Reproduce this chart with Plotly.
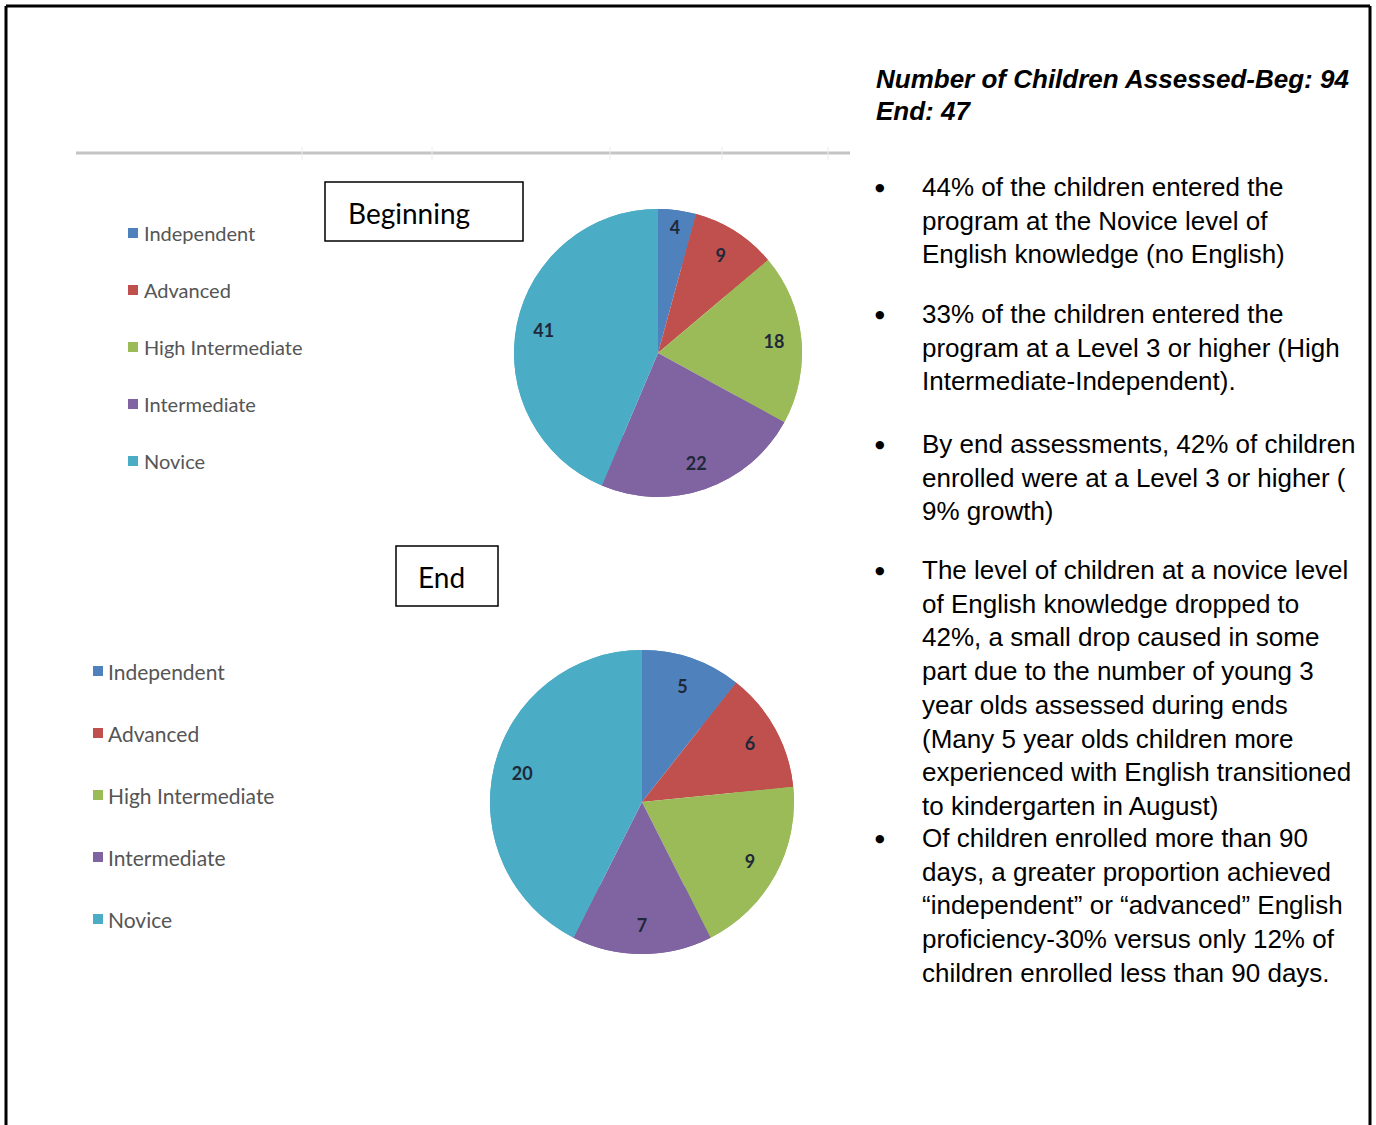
import plotly.graph_objects as go

W, H = 1376, 1125

# ---- data ----
levels = ["Independent", "Advanced", "High Intermediate", "Intermediate", "Novice"]
beginning_counts = [4, 9, 18, 22, 41]
end_counts = [5, 6, 9, 7, 20]
level_colors = ["#4F81BD", "#C0504D", "#9BBB59", "#8064A2", "#4BACC6"]

title_lines = ["Number of Children Assessed-Beg: 94", "End: 47"]
bullets = [
    ["44% of the children entered the",
     "program at the Novice level of",
     "English knowledge (no English)"],
    ["33% of the children entered the",
     "program at a Level 3 or higher (High",
     "Intermediate-Independent)."],
    ["By end assessments, 42% of children",
     "enrolled were at a Level 3 or higher (",
     "9% growth)"],
    ["The level of children at a novice level",
     "of English knowledge dropped to",
     "42%, a small drop caused in some",
     "part due to the number of young 3",
     "year olds assessed during ends",
     "(Many 5 year olds children more",
     "experienced with English transitioned",
     "to kindergarten in August)"],
    ["Of children enrolled more than 90",
     "days, a greater proportion achieved",
     "\u201cindependent\u201d or \u201cadvanced\u201d English",
     "proficiency-30% versus only 12% of",
     "children enrolled less than 90 days."],
]

# ---- layout helpers ----
def dom(cx, cy, r):
    return dict(x=[(cx - r) / W, (cx + r) / W], y=[1 - (cy + r) / H, 1 - (cy - r) / H])

fig = go.Figure()

base = dict(
    labels=levels, sort=False, direction="clockwise", rotation=0,
    marker=dict(colors=level_colors, line=dict(width=0)),
    showlegend=False, hoverinfo="label+value",
)
label_font = dict(family="Lato, sans-serif", size=18, color="#1f2838", weight="bold")

for vals, (cx, cy, r), nm in [(beginning_counts, (658, 353, 144), "Beginning"),
                             (end_counts, (642, 802, 152), "End")]:
    # full pie (no text)
    fig.add_trace(go.Pie(values=vals, domain=dom(cx, cy, r), name=nm, textinfo="none", **base))
    # identical ring on top carrying the value labels near the rim
    fig.add_trace(go.Pie(values=vals, domain=dom(cx, cy, r), name=nm, hole=0.62,
                         textinfo="value", textposition="inside", insidetextorientation="horizontal",
                         insidetextfont=label_font, **base))

shapes = []
annotations = []

# outer frame (left, top, right)
for x0, y0, x1, y1 in [(6, 6, 6, H + 5), (6, 6, 1370, 6), (1370, 6, 1370, H + 5)]:
    shapes.append(dict(type="line", xref="x", yref="y", x0=x0, y0=y0, x1=x1, y1=y1,
                       line=dict(color="black", width=3)))

# grey horizontal rule with faint ticks
shapes.append(dict(type="line", xref="x", yref="y", x0=76, y0=153, x1=850, y1=153,
                   line=dict(color="#c4c4c4", width=3)))
for tx in [302, 432, 610, 722, 828]:
    shapes.append(dict(type="line", xref="x", yref="y", x0=tx, y0=147, x1=tx, y1=160,
                       line=dict(color="#ececec", width=1)))

# boxed labels
for (x0, y0, x1, y1, txt, tx) in [(325, 182, 523, 241, "Beginning", 346), (396, 546, 498, 606, "End", 416)]:
    shapes.append(dict(type="rect", xref="x", yref="y", x0=x0, y0=y0, x1=x1, y1=y1,
                       line=dict(color="black", width=1.5), fillcolor="white"))
    annotations.append(dict(x=tx, y=(y0 + y1) / 2 + 1, xref="x", yref="y", text=txt, showarrow=False,
                            xanchor="left", yanchor="middle",
                            font=dict(family="Lato, sans-serif", size=28, color="black")))

# legends
def add_legend(sq_x, txt_x, y_list, size):
    for name, col, y in zip(levels, level_colors, y_list):
        shapes.append(dict(type="rect", xref="x", yref="y", x0=sq_x, y0=y - 5, x1=sq_x + 10, y1=y + 5,
                           line=dict(width=0), fillcolor=col))
        annotations.append(dict(x=txt_x, y=y, xref="x", yref="y", text=name, showarrow=False,
                                xanchor="left", yanchor="middle",
                                font=dict(family="Lato, sans-serif", size=size, color="#555555")))

add_legend(128, 142, [233, 290, 347, 404, 461], 20)
add_legend(93, 106, [671, 733, 795, 857, 919], 21)

# right-hand text
TXT = "Liberation Sans, Arial, sans-serif"
for i, line in enumerate(title_lines):
    annotations.append(dict(x=874, y=79 + i * 32, xref="x", yref="y", text="<b><i>%s</i></b>" % line,
                            showarrow=False, xanchor="left", yanchor="middle",
                            font=dict(family=TXT, size=26, color="black")))

first_centers = [187, 314, 444, 570, 838]
spacing = 33.7
for lines, yc in zip(bullets, first_centers):
    annotations.append(dict(x=880, y=yc, xref="x", yref="y", text="\u25cf", showarrow=False,
                            xanchor="center", yanchor="middle",
                            font=dict(family="DejaVu Sans", size=11, color="black")))
    for j, line in enumerate(lines):
        annotations.append(dict(x=920, y=yc + j * spacing, xref="x", yref="y", text=line,
                                showarrow=False, xanchor="left", yanchor="middle",
                                font=dict(family=TXT, size=26, color="black")))

fig.update_layout(
    width=W, height=H, margin=dict(l=0, r=0, t=0, b=0),
    paper_bgcolor="white", plot_bgcolor="white",
    xaxis=dict(range=[0, W], visible=False, fixedrange=True),
    yaxis=dict(range=[H, 0], visible=False, fixedrange=True),
    shapes=shapes, annotations=annotations,
    uniformtext=dict(minsize=18, mode="show"),
)

fig.write_html("out.html")
